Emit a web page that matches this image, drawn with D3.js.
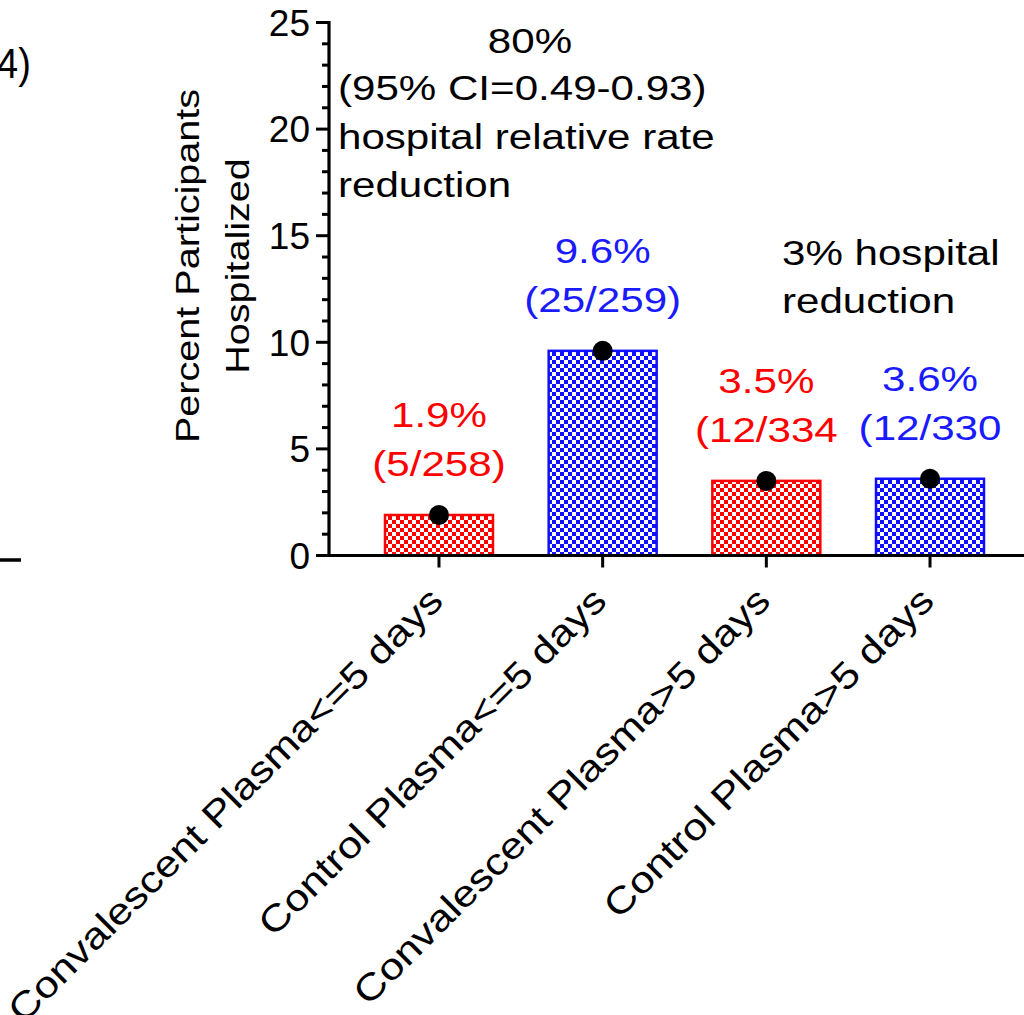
<!DOCTYPE html>
<html>
<head>
<meta charset="utf-8">
<script src="https://cdn.jsdelivr.net/npm/d3@7"></script>
<style>
  html, body { margin: 0; padding: 0; background: #fff; }
  svg { display: block; }
  text { font-family: "Liberation Sans", Arial, Helvetica, sans-serif; }
</style>
</head>
<body>
<svg id="chart" width="1024" height="1015"></svg>
<script>
// Hospitalization by treatment group and time from symptom onset
const categories = [
  "Convalescent Plasma<=5 days",
  "Control Plasma<=5 days",
  "Convalescent Plasma>5 days",
  "Control Plasma>5 days"
];
const percents = [1.9, 9.6, 3.5, 3.6];
const percentLabels = ["1.9%", "9.6%", "3.5%", "3.6%"];
const countLabels = ["(5/258)", "(25/259)", "(12/334", "(12/330"];
const groupColor = ["red", "blue", "red", "blue"];
const yTicks = [0, 5, 10, 15, 20, 25];
const yMinorTicks = d3.range(0, 26, 1);
const earlyNote = ["80%", "(95% CI=0.49-0.93)", "hospital relative rate", "reduction"];
const lateNote = ["3% hospital", "reduction"];

const palette = {
  red:  { fill: "#ff0000", text: "#ff0000" },
  blue: { fill: "#1010ff", text: "#1a1aff" }
};

const svg = d3.select("#chart");
const wide = 1.17;   // horizontal stretch of the label type

const x = d3.scaleBand()
  .domain(categories)
  .range([329, 1040])
  .paddingInner(0.328)
  .paddingOuter(0.336);

const y = d3.scaleLinear().domain([0, 25]).range([555.5, 22.5]);

// checkerboard fills
const defs = svg.append("defs");
["red", "blue"].forEach(k => {
  const p = defs.append("pattern")
    .attr("id", "check-" + k)
    .attr("patternUnits", "userSpaceOnUse")
    .attr("width", 8).attr("height", 8);
  p.append("rect").attr("width", 8).attr("height", 8).attr("fill", "#fff");
  p.append("rect").attr("x", 0).attr("y", 0).attr("width", 4).attr("height", 4).attr("fill", palette[k].fill);
  p.append("rect").attr("x", 4).attr("y", 4).attr("width", 4).attr("height", 4).attr("fill", palette[k].fill);
});

// panel remnants on the left edge
svg.append("text")
  .attr("transform", "translate(-3,78) scale(1,1.12)")
  .attr("font-size", 38)
  .attr("fill", "#000")
  .text("4)");
svg.append("line")
  .attr("x1", 0).attr("x2", 21).attr("y1", 560).attr("y2", 560)
  .attr("stroke", "#000").attr("stroke-width", 3.5);

// bars
svg.append("g").selectAll("rect")
  .data(categories)
  .join("rect")
  .attr("x", d => x(d) + 1)
  .attr("width", x.bandwidth() - 2)
  .attr("y", (d, i) => y(percents[i]))
  .attr("height", (d, i) => y(0) - y(percents[i]))
  .attr("fill", (d, i) => `url(#check-${groupColor[i]})`)
  .attr("stroke", (d, i) => palette[groupColor[i]].fill)
  .attr("stroke-width", 2.5);

// y axis
const yAxis = svg.append("g");
yAxis.append("line")
  .attr("x1", 329).attr("x2", 329)
  .attr("y1", y(25) - 1.5).attr("y2", y(0) + 1.5)
  .attr("stroke", "#000").attr("stroke-width", 3.2);
yAxis.selectAll("line.minor")
  .data(yMinorTicks.filter(v => v % 5 !== 0))
  .join("line").attr("class", "minor")
  .attr("x1", 322).attr("x2", 329)
  .attr("y1", d => y(d)).attr("y2", d => y(d))
  .attr("stroke", "#000").attr("stroke-width", 3);
yAxis.selectAll("line.major")
  .data(yTicks)
  .join("line").attr("class", "major")
  .attr("x1", 316).attr("x2", 329)
  .attr("y1", d => y(d)).attr("y2", d => y(d))
  .attr("stroke", "#000").attr("stroke-width", 3);
yAxis.selectAll("text")
  .data(yTicks)
  .join("text")
  .attr("x", 310).attr("y", d => y(d))
  .attr("dy", "0.36em")
  .attr("text-anchor", "end")
  .attr("font-size", 37)
  .attr("fill", "#000")
  .text(d => d);

// y axis title
[["Percent Participants", 199], ["Hospitalized", 249]].forEach(([t, bx]) => {
  svg.append("text")
    .attr("transform", `translate(${bx},266) rotate(-90) scale(1.2,1)`)
    .attr("text-anchor", "middle")
    .attr("font-size", 33)
    .attr("fill", "#000")
    .text(t);
});

// x axis
const xAxis = svg.append("g");
xAxis.append("line")
  .attr("x1", 327.4).attr("x2", 1024)
  .attr("y1", y(0)).attr("y2", y(0))
  .attr("stroke", "#000").attr("stroke-width", 3.2);
xAxis.selectAll("line.tick")
  .data(categories)
  .join("line").attr("class", "tick")
  .attr("x1", d => x(d) + x.bandwidth() / 2)
  .attr("x2", d => x(d) + x.bandwidth() / 2)
  .attr("y1", y(0)).attr("y2", y(0) + 12)
  .attr("stroke", "#000").attr("stroke-width", 3);
xAxis.selectAll("text")
  .data(categories)
  .join("text")
  .attr("transform", d => `translate(${x(d) + x.bandwidth() / 2 + 6},603) rotate(-45) scale(${wide},1)`)
  .attr("text-anchor", "end")
  .attr("font-size", 37)
  .attr("fill", "#000")
  .text(d => d);

// value dots
svg.append("g").selectAll("circle")
  .data(categories)
  .join("circle")
  .attr("cx", d => x(d) + x.bandwidth() / 2)
  .attr("cy", (d, i) => y(percents[i]))
  .attr("r", 10)
  .attr("fill", "#000");

// value labels above bars
const vl = svg.append("g");
categories.forEach((c, i) => {
  const cx = x(c) + x.bandwidth() / 2;
  const col = palette[groupColor[i]].text;
  [[percentLabels[i], y(percents[i]) - 88], [countLabels[i], y(percents[i]) - 39]].forEach(([t, by]) => {
    vl.append("text")
      .attr("transform", `translate(${cx},${by}) scale(${wide},1)`)
      .attr("text-anchor", "middle")
      .attr("font-size", 36)
      .attr("fill", col)
      .text(t);
  });
});

// notes
const notes = svg.append("g").attr("fill", "#000");
notes.append("text")
  .attr("transform", `translate(530,53) scale(${wide},1)`)
  .attr("text-anchor", "middle")
  .attr("font-size", 36)
  .text(earlyNote[0]);
earlyNote.slice(1).forEach((t, i) => {
  notes.append("text")
    .attr("transform", `translate(338,${100 + i * 48.5}) scale(${wide},1)`)
    .attr("font-size", 36)
    .text(t);
});
lateNote.forEach((t, i) => {
  notes.append("text")
    .attr("transform", `translate(782,${265 + i * 48}) scale(${wide},1)`)
    .attr("font-size", 36)
    .text(t);
});
</script>
</body>
</html>
